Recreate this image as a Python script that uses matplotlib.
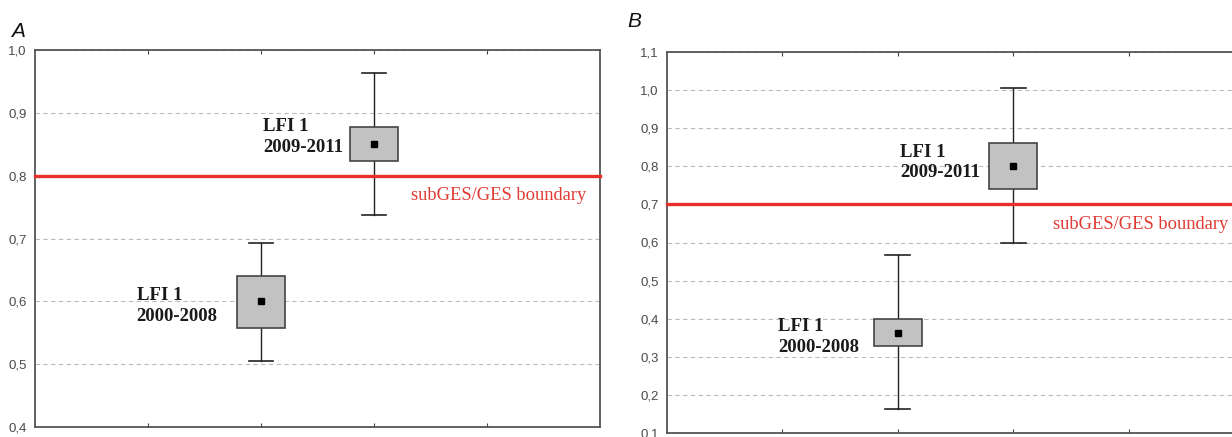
import numpy as np
import matplotlib
matplotlib.use("Agg")
import matplotlib.pyplot as plt
from matplotlib.patches import Rectangle

# Panel A values (LFI 1 periods)
periods = ["2000-2008", "2009-2011"]
a_mean = [0.600, 0.851]
a_box_lo = [0.558, 0.824]
a_box_hi = [0.640, 0.877]
a_wh_lo = [0.505, 0.737]
a_wh_hi = [0.693, 0.964]
a_boundary = 0.8
a_ticks = [0.4, 0.5, 0.6, 0.7, 0.8, 0.9, 1.0]

# Panel B values
b_mean = [0.362, 0.801]
b_box_lo = [0.329, 0.740]
b_box_hi = [0.399, 0.861]
b_wh_lo = [0.162, 0.600]
b_wh_hi = [0.566, 1.006]
b_boundary = 0.7
b_ticks = [0.1, 0.2, 0.3, 0.4, 0.5, 0.6, 0.7, 0.8, 0.9, 1.0, 1.1]

xpos = [2, 3]
box_w = 0.416
cap_w = 0.22

fig = plt.figure(figsize=(12.32, 4.37), dpi=100)
axA = fig.add_axes([35 / 1232, 10 / 437, 565 / 1232, 377 / 437])
axB = fig.add_axes([667 / 1232, 4 / 437, 577 / 1232, 381 / 437])


def draw_panel(ax, mean, lo, hi, wlo, whi, boundary, ticks, lab_pos, red_pos):
    ax.set_xlim(0, 5)
    ax.set_ylim(ticks[0], ticks[-1])
    ax.set_yticks(ticks)
    ax.set_yticklabels([f"{t:.1f}".replace(".", ",") for t in ticks])
    ax.set_xticks([1, 2, 3, 4])
    ax.set_xticklabels([])
    ax.tick_params(axis="x", direction="in", length=3, top=True, color="#444")
    ax.tick_params(axis="y", length=0, pad=6, labelsize=9.5, labelcolor="#4a4a4a")
    for lbl in ax.get_yticklabels():
        lbl.set_family(["Liberation Sans", "DejaVu Sans"])
    ax.grid(axis="y", linestyle=(0, (4, 3)), color="#bbbbbb", linewidth=0.8)
    ax.set_axisbelow(True)
    for s in ax.spines.values():
        s.set_color("#555555")
        s.set_linewidth(1.3)

    for i, x in enumerate(xpos):
        ax.plot([x, x], [wlo[i], whi[i]], color="#222", lw=1, zorder=2)
        for y in (wlo[i], whi[i]):
            ax.plot([x - cap_w / 2, x + cap_w / 2], [y, y], color="#222", lw=1.2, zorder=2)
        ax.add_patch(Rectangle((x - box_w / 2, lo[i]), box_w, hi[i] - lo[i],
                               facecolor="#c2c2c2", edgecolor="#444", lw=1.2, zorder=3))
        ax.plot(x, mean[i], "s", color="black", ms=5, zorder=4)
        ax.text(lab_pos[i][0], lab_pos[i][1], "LFI 1\n" + periods[i], ha="left", va="center",
                family=["Liberation Serif", "DejaVu Serif"], weight="bold", fontsize=13.5,
                color="#1a1a1a", linespacing=1.3)

    ax.axhline(boundary, color="#e8312a", lw=2.4, zorder=3, clip_on=False)
    ax.text(red_pos[0], red_pos[1], "subGES/GES boundary", ha="left", va="center",
            family=["Liberation Serif", "DejaVu Serif"], fontsize=13.3, color="#e03a33")


draw_panel(axA, a_mean, a_box_lo, a_box_hi, a_wh_lo, a_wh_hi, a_boundary, a_ticks,
           [(0.90, 0.593), (2.02, 0.862)], (3.33, 0.769))
draw_panel(axB, b_mean, b_box_lo, b_box_hi, b_wh_lo, b_wh_hi, b_boundary, b_ticks,
           [(0.96, 0.353), (2.02, 0.81)], (3.345, 0.646))

fig.text(11 / 1232, 1 - 37 / 437, "A", fontsize=15, style="italic",
         family=["Liberation Sans", "DejaVu Sans"], color="#111")
fig.text(627 / 1232, 1 - 27 / 437, "B", fontsize=15, style="italic",
         family=["Liberation Sans", "DejaVu Sans"], color="#111")

fig.savefig("out.png", dpi=100, facecolor="white")
